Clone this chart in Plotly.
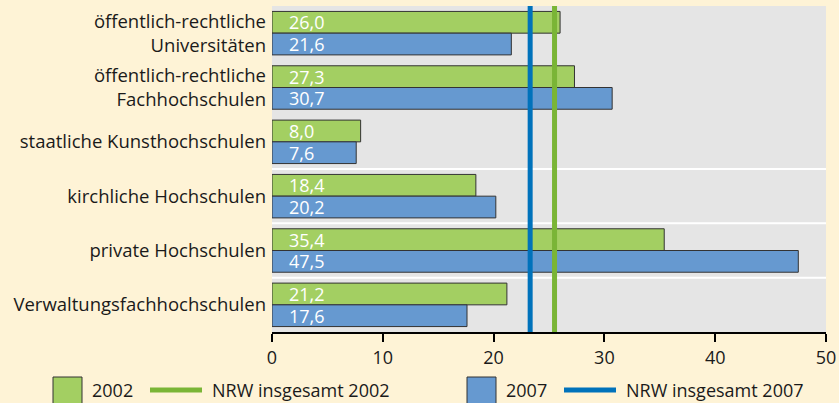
import plotly.graph_objects as go

categories = [
    "öffentlich-rechtliche<br>Universitäten",
    "öffentlich-rechtliche<br>Fachhochschulen",
    "staatliche Kunsthochschulen",
    "kirchliche Hochschulen",
    "private Hochschulen",
    "Verwaltungsfachhochschulen",
]
values_2002 = [26.0, 27.3, 8.0, 18.4, 35.4, 21.2]
values_2007 = [21.6, 30.7, 7.6, 20.2, 47.5, 17.6]
nrw_2002 = 25.5
nrw_2007 = 23.3
x_ticks = [0, 10, 20, 30, 40, 50]

GREEN = "#a3cf62"
BLUE = "#6699d0"
GREEN_LINE = "#7ab536"
BLUE_LINE = "#0072bb"
BG = "#fef3d6"
FONT = "Open Sans"
FS = 18

W, H = 839, 403
ML, MR, MT, MB = 272, 13, 6, 71
PW = W - ML - MR
PH = H - MT - MB


def fmt(v):
    # German decimal comma, small indent like the original
    return "\u00a0\u00a0\u00a0" + f"{v:.1f}".replace(".", ",")


def px_x(p):
    return (p - ML) / PW


def px_y(p):
    return (H - MB - p) / PH


fig = go.Figure()
for name, vals, col in [("2002", values_2002, GREEN), ("2007", values_2007, BLUE)]:
    fig.add_trace(go.Bar(
        name=name, y=categories, x=vals, orientation="h",
        marker=dict(color=col, line=dict(color="#333333", width=1)),
        text=[fmt(v) for v in vals], textposition="inside",
        insidetextanchor="start", textangle=0,
        textfont=dict(color="white", size=FS, family=FONT),
        showlegend=False,
    ))

# white separators between the groups
shapes = []
for i in range(len(categories) - 1):
    shapes.append(dict(type="line", xref="paper", x0=0, x1=1, yref="y",
                       y0=i + 0.5, y1=i + 0.5, line=dict(color="white", width=2),
                       layer="below"))

fig.add_vline(x=nrw_2007, line=dict(color=BLUE_LINE, width=5))
fig.add_vline(x=nrw_2002, line=dict(color=GREEN_LINE, width=5))

# legend drawn by hand
legend_items = [
    ("box", GREEN, "2002", 53),
    ("line", GREEN_LINE, "NRW insgesamt 2002", 150),
    ("box", BLUE, "2007", 467),
    ("line", BLUE_LINE, "NRW insgesamt 2007", 564),
]
annotations = []
ly = 390
for kind, col, label, x0 in legend_items:
    if kind == "box":
        shapes.append(dict(type="rect", xref="paper", yref="paper",
                           x0=px_x(x0), x1=px_x(x0 + 29), y0=px_y(377), y1=px_y(405),
                           fillcolor=col, line=dict(color="#333333", width=1)))
        tx = x0 + 37
    else:
        shapes.append(dict(type="line", xref="paper", yref="paper",
                           x0=px_x(x0), x1=px_x(x0 + 52), y0=px_y(ly), y1=px_y(ly),
                           line=dict(color=col, width=5)))
        tx = x0 + 60
    annotations.append(dict(text=label, xref="paper", yref="paper", x=px_x(tx), y=px_y(ly),
                            xanchor="left", yanchor="middle", showarrow=False,
                            font=dict(size=FS, color="#1a1a1a", family=FONT)))

fig.update_layout(
    width=W, height=H,
    margin=dict(l=ML, r=MR, t=MT, b=MB, autoexpand=False),
    paper_bgcolor=BG, plot_bgcolor="#e5e5e5",
    barmode="group", bargap=0.2, bargroupgap=0,
    font=dict(family=FONT, size=FS, color="#1a1a1a"),
    uniformtext=dict(minsize=FS, mode="show"),
    shapes=shapes, annotations=annotations,
    xaxis=dict(range=[0, 50], tickvals=x_ticks, showgrid=False, zeroline=False,
               showline=True, linecolor="black", linewidth=2, automargin=False,
               ticks="outside", ticklen=8, tickwidth=2, tickcolor="black"),
    yaxis=dict(categoryorder="array", categoryarray=categories, autorange="reversed",
               showgrid=False, zeroline=False, ticks="", ticklabelstandoff=5,
               automargin=False, tickfont=dict(size=18.5)),
)

fig.write_html("out.html", config={"displayModeBar": False},
               post_script="document.body.style.margin='0';")
